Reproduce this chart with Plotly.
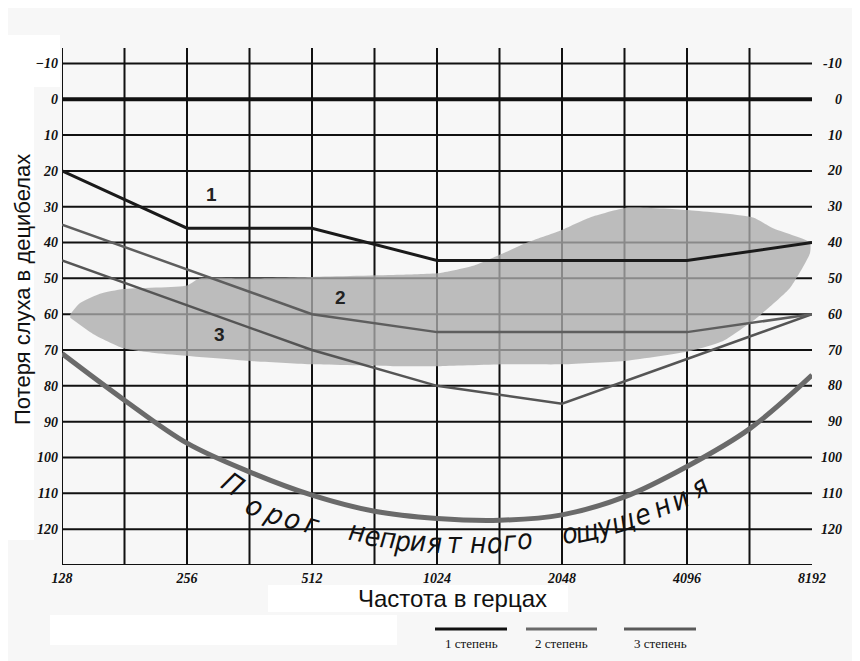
import numpy as np
import plotly.graph_objects as go

# ---------------- data ----------------
octave_freqs = [128, 256, 512, 1024, 2048, 4096, 8192]
octave_labels = ["128", "256", "512", "1024", "2048", "4096", "8192"]
db_ticks = [-10, 0, 10, 20, 30, 40, 50, 60, 70, 80, 90, 100, 110, 120]

freq_1 = [128, 256, 512, 1024, 2048, 4096, 8192]
loss_1 = [20, 36, 36, 45, 45, 45, 40]
freq_2 = [128, 256, 512, 1024, 2048, 4096, 8192]
loss_2 = [35, 47.5, 60, 65, 65, 65, 60]
freq_3 = [128, 256, 512, 1024, 2048, 4096, 8192]
loss_3 = [45, 57.5, 70, 80, 85, 72.5, 60]

pain_freq = [128, 181, 256, 362, 512, 724, 1024, 1448, 2048, 2896, 4096, 5793, 8192]
pain_db = [71, 84, 96, 104, 110.5, 115, 117, 117.5, 116, 111, 102.5, 92, 77]

speech_top_f = [134, 141, 158, 180, 256, 275, 357, 514, 833, 1043, 1252, 1478, 1687,
                2025, 2392, 2934, 4165, 5906, 6600, 8100]
speech_top_db = [60, 57, 54.3, 53, 52, 50, 50, 49.6, 49, 48.5, 46.5, 43, 40,
                 36.7, 33, 30.3, 31, 33, 36, 40]
speech_bot_f = [134, 152, 180, 221, 357, 514, 802, 1043, 1509, 2059, 2934, 4165,
                5004, 6038, 7248, 8100]
speech_bot_db = [61, 65.5, 69.5, 71, 73, 74, 74.5, 74.5, 74, 74, 73, 70.3,
                 67.5, 61, 52.7, 43]

curve_labels = ["1", "2", "3"]
curve_label_f = [294, 599, 306]
curve_label_db = [26.6, 55.2, 65.8]

pain_text = "Порогнеприятногоощущения"
pain_text_f = [330, 372, 416, 460, 512,
               657, 717, 780, 848, 921, 1010, 1130, 1284, 1412, 1533, 1665,
               2139, 2353, 2599, 2871, 3207, 3565, 3938, 4399]
pain_text_db = [107.6, 113.7, 116, 117.4, 118.8,
                120.7, 122.1, 122.7, 123.5, 123.5, 124.1, 124.1, 124.1, 124.1, 123.5, 123,
                121.3, 120.7, 119.3, 117.9, 116, 113.7, 111.8, 108.1]
pain_text_angle = [35, 30, 25, 20, 17,
                   10, 8, 6, 4, 3, 1, 0, 0, -2, -3, -4,
                   -10, -12, -15, -18, -20, -23, -26, -30]

legend_names = ["1 степень", "2 степень", "3 степень"]

y_title = "Потеря слуха в децибелах"
x_title = "Частота в герцах"

# ---------------- figure ----------------
Y_TOP = -14.3
Y_BOT = 130
fig = go.Figure()

# grid: vertical lines at half-octaves (none at 8192)
vx, vy = [], []
for k in range(12):
    f = 128 * 2 ** (k / 2)
    vx += [f, f, None]
    vy += [Y_TOP, Y_BOT, None]
fig.add_trace(go.Scatter(x=vx, y=vy, mode="lines", line=dict(color="#111111", width=2),
                         hoverinfo="skip", showlegend=False))
hx, hy = [], []
for lv in list(range(-10, 131, 10)):
    if lv == 0:
        continue
    hx += [128, 8192, None]
    hy += [lv, lv, None]
fig.add_trace(go.Scatter(x=hx, y=hy, mode="lines", line=dict(color="#111111", width=2),
                         hoverinfo="skip", showlegend=False))
fig.add_trace(go.Scatter(x=[128, 8192], y=[0, 0], mode="lines",
                         line=dict(color="#111111", width=4),
                         hoverinfo="skip", showlegend=False))

# speech area
poly_f = speech_top_f + speech_bot_f[::-1]
poly_db = speech_top_db + speech_bot_db[::-1]
fig.add_trace(go.Scatter(x=poly_f, y=poly_db, mode="lines", fill="toself",
                         fillcolor="rgba(172,172,172,0.78)",
                         line=dict(width=0, shape="spline", smoothing=0.5),
                         hoverinfo="skip", showlegend=False))

# pain threshold
fig.add_trace(go.Scatter(x=pain_freq, y=pain_db, mode="lines",
                         line=dict(color="#6a6a6a", width=5, shape="spline"),
                         hoverinfo="skip", showlegend=False))

# degree curves
fig.add_trace(go.Scatter(x=freq_3, y=loss_3, mode="lines", line=dict(color="#555555", width=2.5),
                         name=legend_names[2], showlegend=False))
fig.add_trace(go.Scatter(x=freq_2, y=loss_2, mode="lines", line=dict(color="#5e5e5e", width=2.5),
                         name=legend_names[1], showlegend=False))
fig.add_trace(go.Scatter(x=freq_1, y=loss_1, mode="lines", line=dict(color="#1a1a1a", width=3),
                         name=legend_names[0], showlegend=False))

annotations = []
num_font = dict(family="Liberation Serif", size=14, color="#111111", weight="bold", style="italic")

# right-side labels
for v in db_ticks:
    annotations.append(dict(xref="paper", yref="y", x=1, y=v, xshift=32, xanchor="right",
                            yanchor="middle", text=str(v), showarrow=False, font=num_font))

# curve number labels
for t, f, d in zip(curve_labels, curve_label_f, curve_label_db):
    annotations.append(dict(x=np.log10(f), y=d, text=t, showarrow=False,
                            xanchor="center", yanchor="middle",
                            font=dict(family="Liberation Sans", size=19, color="#222222", weight="bold")))

# curved caption
for ch, f, d, a in zip(pain_text, pain_text_f, pain_text_db, pain_text_angle):
    annotations.append(dict(x=np.log10(f), y=d, text=ch, showarrow=False, textangle=a,
                            xanchor="center", yanchor="middle",
                            font=dict(family="Liberation Sans Narrow, DejaVu Sans Condensed, DejaVu Sans",
                                      size=28, color="#111111", style="italic")))


def px_x(px):
    return (px - 62) / 750


def px_y(py):
    return (565 - py) / 517


# axis titles
annotations.append(dict(xref="paper", yref="paper", x=px_x(22), y=px_y(290),
                        xanchor="center", yanchor="middle",
                        text=y_title, textangle=-90, showarrow=False,
                        font=dict(family="Liberation Sans", size=22, color="#111111")))
annotations.append(dict(xref="paper", yref="paper", x=px_x(452), y=px_y(598),
                        xanchor="center", yanchor="middle",
                        text=x_title, showarrow=False,
                        font=dict(family="Liberation Sans", size=24, color="#111111")))

# legend
legend_colors = ["#111111", "#6a6a6a", "#5a5a5a"]
legend_px = [(435, 507), (526, 597), (624, 696)]
shapes = []
for name, col, (a, b) in zip(legend_names, legend_colors, legend_px):
    shapes.append(dict(type="line", xref="paper", yref="paper",
                       x0=px_x(a), x1=px_x(b), y0=px_y(629), y1=px_y(629),
                       line=dict(color=col, width=3)))
    annotations.append(dict(xref="paper", yref="paper", x=px_x((a + b) / 2),
                            y=px_y(643), xanchor="center", yanchor="middle",
                            text=name, showarrow=False,
                            font=dict(family="Liberation Serif", size=13, color="#111111")))


# white patches
def white_rect(x0, y0, x1, y1):
    return dict(type="rect", xref="paper", yref="paper", layer="below",
                x0=px_x(x0), x1=px_x(x1), y0=px_y(y1), y1=px_y(y0),
                fillcolor="white", line=dict(width=0))


shapes += [white_rect(268, 585, 568, 612), white_rect(50, 615, 397, 645),
           white_rect(8, 87, 34, 540), white_rect(8, 35, 60, 87)]

# the page body adds an 8px offset; margins compensate so the plot sits at 62..812 x 48..565
fig.update_layout(
    width=860, height=661,
    margin=dict(l=54, r=56, t=40, b=104),
    paper_bgcolor="#f7f7f7", plot_bgcolor="rgba(0,0,0,0)",
    showlegend=False,
    annotations=annotations, shapes=shapes,
    xaxis=dict(type="log", range=[np.log10(128), np.log10(8192)],
               tickvals=octave_freqs, ticktext=octave_labels, showgrid=False,
               zeroline=False, showline=False, ticks="", tickfont=num_font,
               ticklabelstandoff=3, fixedrange=True),
    yaxis=dict(range=[Y_BOT, Y_TOP], tickvals=db_ticks, showgrid=False,
               zeroline=False, showline=False, ticks="", tickfont=num_font,
               ticklabelstandoff=3, fixedrange=True),
)

fig.write_html("out.html")
